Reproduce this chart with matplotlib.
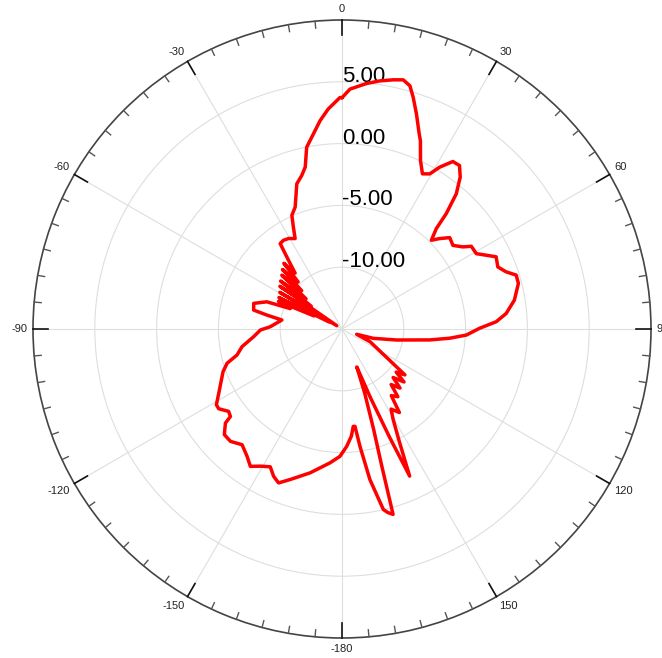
import numpy as np
import matplotlib
matplotlib.use("Agg")
import matplotlib.pyplot as plt

plt.rcParams['font.family'] = ['Liberation Sans', 'DejaVu Sans']

# Pattern data: angle (deg, clockwise from top) and gain (dB)
angle_deg = [
    0.0, 1.9, 3.5, 5.7, 8.7, 11.6, 13.8, 15.6, 17.1, 19.1, 21.6, 22.6, 25.0,
    27.4, 29.5, 31.1, 33.5, 35.7, 37.9, 40.2, 42.1, 43.2, 45.2, 47.2, 49.7,
    53.0, 55.8, 57.4, 60.7, 62.9, 64.9, 68.3, 70.8, 72.8, 75.5, 80.5, 84.6,
    87.3, 89.7, 92.8, 94.9, 97.1, 101.4, 106.6, 109.8, 114.4, 122.8, 126.1,
    128.5, 130.5, 133.5, 135.5, 138.5, 140.5, 143.5, 145.5, 148.5, 150.5,
    153.0, 155.3, 156.3, 157.5, 158.7, 160.5, 162.5, 163.8, 164.6, 166.0,
    167.1, 169.5, 171.3, 172.4, 173.4, 175.0, 177.7, 180.9, 185.1, 192.5,
    199.0, 202.4, 204.9, 207.5, 210.8, 213.7, 216.7, 220.8, 224.8, 228.1,
    231.1, 231.9, 234.0, 237.1, 238.9, 242.5, 250.3, 253.4, 256.1, 260.0,
    265.0, 269.3, 271.8, 278.5, 280.5, 282.1, 286.2, 289.9, 291.5, 293.5,
    295.0, 296.5, 298.5, 300.5, 302.5, 304.5, 306.5, 308.0, 310.0, 311.8,
    313.5, 315.0, 317.0, 318.5, 320.0, 321.0, 322.1, 323.4, 324.1, 326.6,
    329.5, 332.6, 334.5, 336.2, 339.0, 342.7, 345.3, 347.2, 349.0, 351.0,
    354.0, 356.4, 359.5, 360.0,
]
gain_db = [
    3.71, 4.42, 4.63, 4.96, 5.31, 5.58, 5.76, 5.43, 4.60, 3.41, 1.97, 1.51, 0.03,
    -0.86, -0.58, 0.29, 1.25, 1.29, 0.57, -0.67, -2.42, -3.85, -4.81, -4.23, -3.57,
    -3.76, -3.18, -2.58, -2.54, -1.90, -1.23, -1.43, -0.94, -0.25, -0.26, -0.86, -1.66,
    -2.51, -3.87, -4.93, -6.26, -7.85, -10.5, -12.36, -13.74, -12.5, -10.6, -8.7,
    -9.4, -8.4, -9.3, -8.3, -9.0, -7.9, -8.3, -6.8, -7.4, -6.6,
    -4.8, -1.9, -5.5, -9.0, -11.7, -9.5, -6.5, -3.5, 0.56, 0.3,
    -0.02, -2.61, -5.4, -7.05, -7.07, -6.3, -5.5, -4.7, -4.13, -3.08,
    -2.12, -1.53, -1.86, -2.43, -2.08, -1.64, -2.15, -2.63, -2.19, -2.21,
    -2.88, -3.53, -3.66, -3.12, -3.13, -3.76, -4.78, -5.3, -6.25, -6.79,
    -7.82, -8.4, -9.19, -10.08, -8.82, -7.69, -7.56, -8.54, -10.5, -9.4,
    -12.5, -9.3, -13.8, -9.16, -14.5, -8.9, -11.9, -8.7, -11.2, -8.47,
    -10.5, -8.2, -9.8, -7.9, -9.1, -8.6, -7.95, -7.06, -6.47, -6.4,
    -6.5, -6.76, -5.86, -4.95, -4.43, -2.7, -2.16, -1.57, -0.02, 0.7,
    1.95, 2.83, 3.73, 3.71,
]

theta_ticks = [0, 30, 60, 90, 120, 150, 180, 210, 240, 270, 300, 330]
theta_labels = ['0', '30', '60', '90', '120', '150', '-180', '-150', '-120', '-90', '-60', '-30']
minor_step = 5
r_ticks = [-10, -5, 0, 5]
r_labels = ['-10.00', '-5.00', '0.00', '5.00']
r_min, r_max = -15, 10

W, H = 662, 658
fig = plt.figure(figsize=(W / 100, H / 100), dpi=100)
cx, cy, R = 342, 329, 309
ax = fig.add_axes([(cx - R) / W, (H - cy - R) / H, 2 * R / W, 2 * R / H], projection='polar')
ax.set_theta_zero_location('N')
ax.set_theta_direction(-1)
ax.set_rlim(r_min, r_max)

ax.set_thetagrids(theta_ticks, labels=[''] * len(theta_ticks))
ax.set_rgrids(r_ticks, labels=[''] * len(r_ticks))
ax.grid(True, color='#dedede', linewidth=0.8)
ax.tick_params(axis='x', which='major', length=0)
ax.spines['polar'].set_color('#444444')
ax.spines['polar'].set_linewidth(1.2)

# tick marks on the outer circle (pointing inward)
px_per_db = R / (r_max - r_min)
for a in range(0, 360, minor_step):
    major = a % 30 == 0
    L = (15 if major else 7) / px_per_db
    ax.plot([np.deg2rad(a)] * 2, [r_max - L, r_max], color='#111111' if major else '#555555',
            linewidth=1.2 if major else 1.0, clip_on=False, zorder=3)

# angle labels just outside the circle, anchored by their inner edge
off_pt = 4.0
for a, lab in zip(theta_ticks, theta_labels):
    s, c = np.sin(np.deg2rad(a)), np.cos(np.deg2rad(a))
    ha = 'left' if s > 0.1 else ('right' if s < -0.1 else 'center')
    va = 'bottom' if c > 0.1 else ('top' if c < -0.1 else 'center')
    ax.annotate(lab, xy=(np.deg2rad(a), r_max), xytext=(off_pt * s, off_pt * c),
                textcoords='offset points', ha=ha, va=va, fontsize=8,
                color='#222222', annotation_clip=False)

for rv, lab in zip(r_ticks, r_labels):
    ax.text(0, rv, lab, ha='left', va='baseline', fontsize=16, color='black')

ax.plot(np.deg2rad(angle_deg), gain_db, color='red', linewidth=2.5,
        solid_joinstyle='round', solid_capstyle='round', zorder=4)

fig.savefig('out.png', dpi=100)
